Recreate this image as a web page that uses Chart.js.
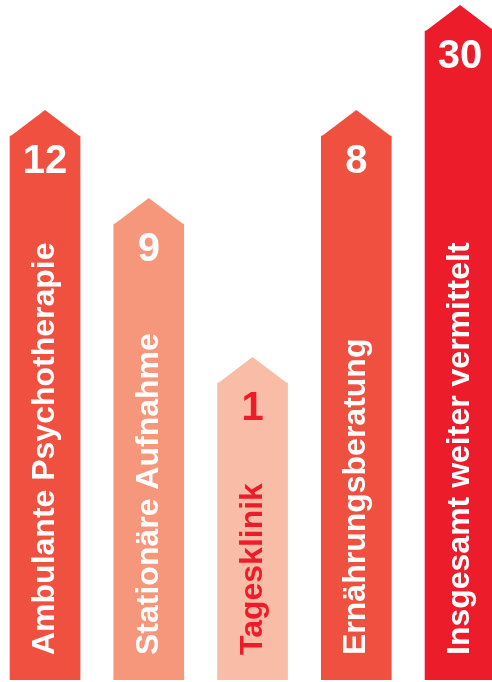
<!DOCTYPE html>
<html>
<head>
<meta charset="utf-8">
<script src="https://cdn.jsdelivr.net/npm/chart.js@4"></script>
<style>
  html, body { margin: 0; padding: 0; background: #fff; overflow: hidden; }
  #wrap { width: 492px; height: 682px; position: relative; }
</style>
</head>
<body>
<div id="wrap"><canvas id="arrowChart"></canvas></div>
<script>
// Weitervermittlung - Pfeildiagramm

const categories = ['Ambulante Psychotherapie', 'Stationäre Aufnahme', 'Tagesklinik', 'Ernährungsberatung', 'Insgesamt weiter vermittelt'];
const counts = [12, 9, 1, 8, 30];
// Pfeillänge bis zur Schulter (ohne Spitze) - nicht proportional zu den Zahlen
const arrowLength = [54.4, 45.6, 29.7, 54.4, 64.9];
const barColors = ['#ef503f', '#f6977c', '#f9bda7', '#ef503f', '#ed1c2b'];
const textColors = ['#ffffff', '#ffffff', '#ed1c2b', '#ffffff', '#ffffff'];

const fontFamily = '"Liberation Sans", Arial, Helvetica, sans-serif';

// Spitze, Zahl und senkrechte Beschriftung auf jeden Balken
const arrowPlugin = {
  id: 'arrowPlugin',
  afterDatasetsDraw(chart) {
    const ctx = chart.ctx;
    const bars = chart.getDatasetMeta(0).data;
    bars.forEach(function (bar, i) {
      const half = bar.width / 2;
      ctx.save();
      ctx.fillStyle = barColors[i];
      ctx.beginPath();
      ctx.moveTo(bar.x - half, bar.y + 0.5);
      ctx.lineTo(bar.x, bar.y - 26);
      ctx.lineTo(bar.x + half, bar.y + 0.5);
      ctx.closePath();
      ctx.fill();

      ctx.fillStyle = textColors[i];
      ctx.font = 'bold 40px ' + fontFamily;
      ctx.textAlign = 'center';
      ctx.textBaseline = 'middle';
      ctx.fillText(String(counts[i]), bar.x, bar.y + 26);

      ctx.translate(bar.x, bar.base - 25);
      ctx.rotate(-Math.PI / 2);
      ctx.font = 'bold 32px ' + fontFamily;
      ctx.textAlign = 'left';
      ctx.textBaseline = 'alphabetic';
      ctx.fillText(categories[i], 0, 9);
      ctx.restore();
    });
  }
};

document.addEventListener("DOMContentLoaded", function () {

  const data = {
    datasets: [{
      label: 'Weiter vermittelt',
      data: arrowLength.map(function (v, i) { return { x: i, y: v }; }),
      backgroundColor: barColors,
      borderWidth: 0,
      barThickness: 70
    }]
  };

  const config = {
    type: 'bar',
    data,
    options: {
      responsive: true,
      maintainAspectRatio: false,
      animation: false,
      layout: { padding: { top: 0, bottom: 2, left: 0, right: 0 } },
      scales: {
        x: { type: 'linear', display: false, offset: false, min: -0.434, max: 4.308 },
        y: { display: false, min: 0, max: 68 }
      },
      plugins: {
        legend: { display: false },
        tooltip: { enabled: false }
      }
    },
    plugins: [arrowPlugin]
  };

  new Chart(
    document.getElementById('arrowChart'),
    config
  );
})
</script>
</body>
</html>
